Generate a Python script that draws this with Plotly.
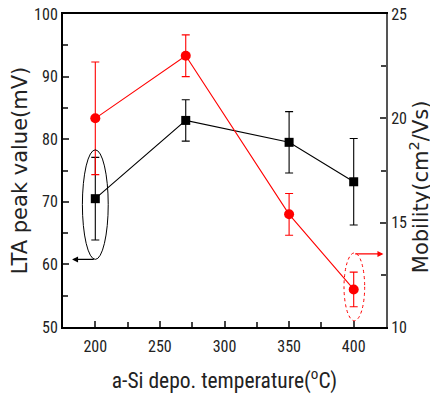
import plotly.graph_objects as go

temps = [200, 270, 350, 400]
lta_peak = [70.5, 83.0, 79.5, 73.2]
lta_err = [6.6, 3.3, 4.9, 6.9]
mobility = [20.0, 23.0, 15.4, 11.8]
mobility_err = [2.7, 1.0, 1.0, 0.83]

x_ticks = [200, 250, 300, 350, 400]
y_ticks = [50, 60, 70, 80, 90, 100]
y2_ticks = [10, 15, 20, 25]

tick_font = dict(family="Roboto Condensed, Liberation Sans", size=16, color="#222")
xtitle_font = dict(family="Roboto Condensed, Liberation Sans", size=21.5, color="#222")
ytitle_font = dict(family="DejaVu Sans, Liberation Sans", size=21, color="#222")

fig = go.Figure()
fig.add_trace(go.Scatter(
    x=temps, y=lta_peak, mode="lines+markers",
    line=dict(color="black", width=1.1),
    marker=dict(symbol="square", size=9, color="black"),
    error_y=dict(type="data", array=lta_err, color="black", thickness=1.1, width=4),
    yaxis="y", showlegend=False))
fig.add_trace(go.Scatter(
    x=temps, y=mobility, mode="lines+markers",
    line=dict(color="red", width=1.1),
    marker=dict(symbol="circle", size=10, color="red"),
    error_y=dict(type="data", array=mobility_err, color="red", thickness=1.1, width=4),
    yaxis="y2", showlegend=False))

# ellipses
fig.add_shape(type="circle", xref="x", yref="y", x0=190, x1=210, y0=60.8, y1=78.3,
              line=dict(color="black", width=1))
fig.add_shape(type="circle", xref="x", yref="y2", x0=392.5, x1=408.5, y0=10.3, y1=13.55,
              line=dict(color="red", width=1, dash="dot"))

# arrows
fig.add_annotation(x=182, y=60.8, xref="x", yref="y", ax=200, ay=60.8, axref="x", ayref="y",
                   showarrow=True, arrowhead=2, arrowsize=1, arrowwidth=1.2, arrowcolor="black", text="")
fig.add_annotation(x=423, y=13.5, xref="x", yref="y2", ax=400, ay=13.5, axref="x", ayref="y2",
                   showarrow=True, arrowhead=2, arrowsize=1, arrowwidth=1.2, arrowcolor="red", text="")

# right axis title (placed as annotation to match the original offset)
fig.add_annotation(text="Mobility(cm<sup>2</sup>/Vs)", textangle=-90, showarrow=False,
                   xref="paper", x=1, xanchor="center", xshift=33,
                   yref="y2", y=16.7, yanchor="middle", font=ytitle_font)

fig.update_layout(
    width=430, height=389,
    margin=dict(l=55, r=52, t=6, b=70, autoexpand=False),
    paper_bgcolor="white", plot_bgcolor="white",
    xaxis=dict(range=[175, 425], tickvals=x_ticks, ticks="inside", ticklen=6, tickwidth=1.5,
               minor=dict(dtick=25, tick0=175, ticks="inside", ticklen=5, tickwidth=1.5),
               showline=True, linecolor="black", linewidth=2, mirror=True, showgrid=False, zeroline=False,
               tickfont=tick_font, automargin=False, ticklabelstandoff=4, ticklabeloverflow="allow",
               title=dict(text="a-Si depo. temperature(<sup>o</sup>C)", font=xtitle_font, standoff=18)),
    yaxis=dict(range=[50, 100], tickvals=y_ticks, ticks="inside", ticklen=6, tickwidth=1.5,
               minor=dict(dtick=5, ticks="inside", ticklen=5, tickwidth=1.5),
               showline=True, linecolor="black", linewidth=2, showgrid=False, zeroline=False,
               tickfont=tick_font, automargin=False, ticklabeloverflow="allow",
               title=dict(text="LTA peak value(mV)", font=ytitle_font, standoff=5)),
    yaxis2=dict(range=[10, 25], tickvals=y2_ticks, overlaying="y", side="right",
                ticks="inside", ticklen=6, tickwidth=1.5,
                minor=dict(dtick=2.5, ticks="inside", ticklen=5, tickwidth=1.5),
                showline=True, linecolor="#555", linewidth=2, showgrid=False, zeroline=False,
                tickfont=tick_font, automargin=False, ticklabeloverflow="allow"),
)

fig.write_html("out.html")
